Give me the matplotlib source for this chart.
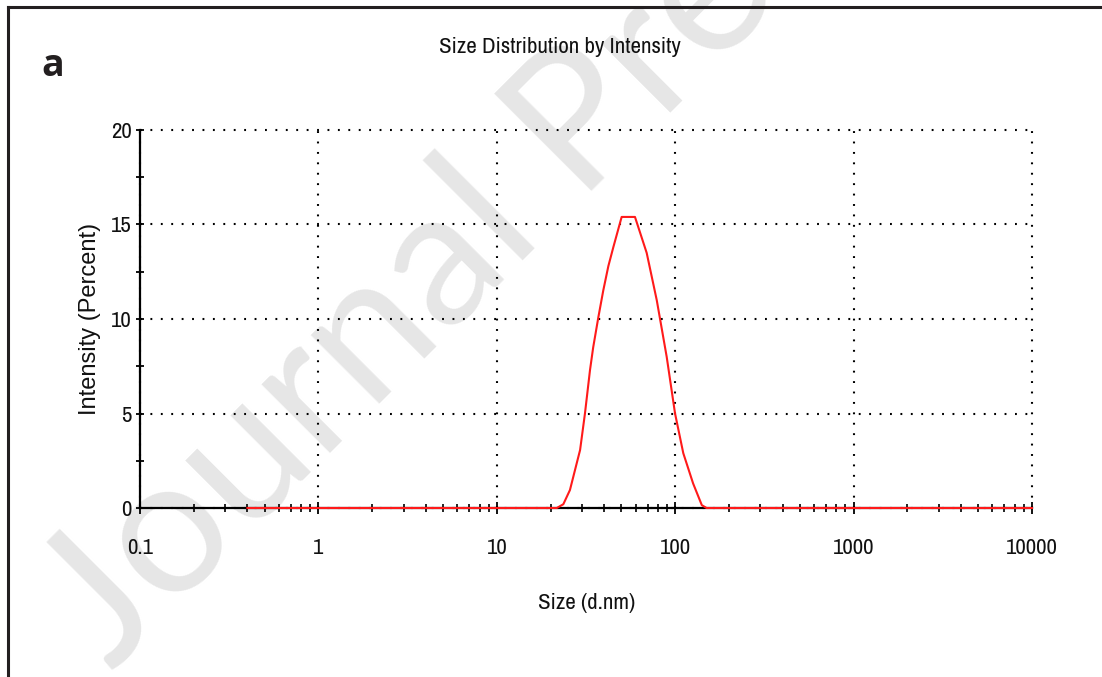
import matplotlib
matplotlib.use('Agg')
import matplotlib.pyplot as plt
from matplotlib.lines import Line2D

# ========================
# Data
# ========================
size_nm = [0.4, 21.7, 23.6, 25.7, 29.3, 31.2, 33.3, 34.7, 37.1, 39.5, 42.2, 45.0,
           50.1, 59.5, 69.2, 78.8, 89.6, 99.8, 111, 126, 141, 150, 10000]
intensity_pct = [0, 0, 0.2, 0.95, 3.07, 5.0, 7.3, 8.5, 10.1, 11.5, 12.8, 13.8,
                 15.4, 15.4, 13.5, 11.0, 8.0, 5.0, 2.9, 1.3, 0.15, 0, 0]

x_tick_vals = [0.1, 1, 10, 100, 1000, 10000]
x_tick_labels = ['0.1', '1', '10', '100', '1000', '10000']
y_tick_vals = [0, 5, 10, 15, 20]
y_minor_vals = [2.5, 7.5, 12.5, 17.5]

title_text = "Size Distribution by Intensity"
xlabel_text = "Size (d.nm)"
ylabel_text = "Intensity (Percent)"
panel_label = "a"
watermark_text = "Journal Pre-proof"

NARROW = ['Archivo Narrow', 'DejaVu Sans']
REGULAR = ['Liberation Sans', 'DejaVu Sans']

W, H = 1102, 677
fig = plt.figure(figsize=(W / 100, H / 100), dpi=100)
fig.patch.set_facecolor('white')

# watermark behind everything
fig.text(112 / W, 1 - 672 / H, watermark_text, rotation=45, rotation_mode='anchor',
         ha='left', va='baseline', fontsize=138, color='#e6e6e6',
         family=['Lato', 'DejaVu Sans'], fontweight='normal', zorder=-5)

# outer frame (top and left edges visible)
fig.add_artist(Line2D([8 / W, 1.0], [1 - 7 / H, 1 - 7 / H], transform=fig.transFigure,
                      color='#231f20', lw=2.2))
fig.add_artist(Line2D([8 / W, 8 / W], [0.0, 1 - 7 / H], transform=fig.transFigure,
                      color='#231f20', lw=2.2))

ax = fig.add_axes([140 / W, (H - 508) / H, 892 / W, 378 / H])
ax.set_facecolor('none')

ax.plot(size_nm, intensity_pct, color='#ff1a1a', lw=1.5, zorder=4, clip_on=False)

ax.set_xscale('log')
ax.set_xlim(0.1, 10000)
ax.set_ylim(0, 20)

ax.set_xticks(x_tick_vals)
ax.set_xticklabels(x_tick_labels)
ax.set_yticks(y_tick_vals)
ax.set_yticks(y_minor_vals, minor=True)

for lab in ax.get_xticklabels() + ax.get_yticklabels():
    lab.set_family(NARROW)
    lab.set_fontsize(16.5)
    lab.set_color('#111111')

ax.tick_params(axis='x', which='major', direction='inout', length=9, width=1.3,
               color='black', pad=17)
ax.tick_params(axis='x', which='minor', direction='inout', length=6, width=1.2,
               color='black')
ax.tick_params(axis='y', which='both', direction='inout', length=6, width=1.3,
               color='black', pad=3)

for s in ['top', 'right']:
    ax.spines[s].set_visible(False)
for s in ['left', 'bottom']:
    ax.spines[s].set_linewidth(1.6)
    ax.spines[s].set_color('black')

ax.grid(True, which='major', color='black', linestyle=(0, (0.9, 4.1)), linewidth=1.5)
# grid at the top/right limits so the dotted frame shows
for gl in ax.get_xgridlines() + ax.get_ygridlines():
    gl.set_clip_on(False)

fig.text(560 / W, 1 - 47 / H, title_text, ha='center', va='center',
         family=NARROW, fontsize=16.5, color='#111111')
fig.text(587 / W, 1 - 603 / H, xlabel_text, ha='center', va='center',
         family=NARROW, fontsize=16.5, color='#111111')
fig.text(90 / W, 1 - 319 / H, ylabel_text, ha='center', va='center', rotation=90,
         family=REGULAR, fontsize=17, color='#111111')
fig.text(53 / W, 1 - 66 / H, panel_label, ha='center', va='center',
         family=['Open Sans', 'DejaVu Sans'], fontweight='bold', fontsize=27,
         color='#231f20')

fig.savefig('out.png', dpi=100, facecolor='white')
